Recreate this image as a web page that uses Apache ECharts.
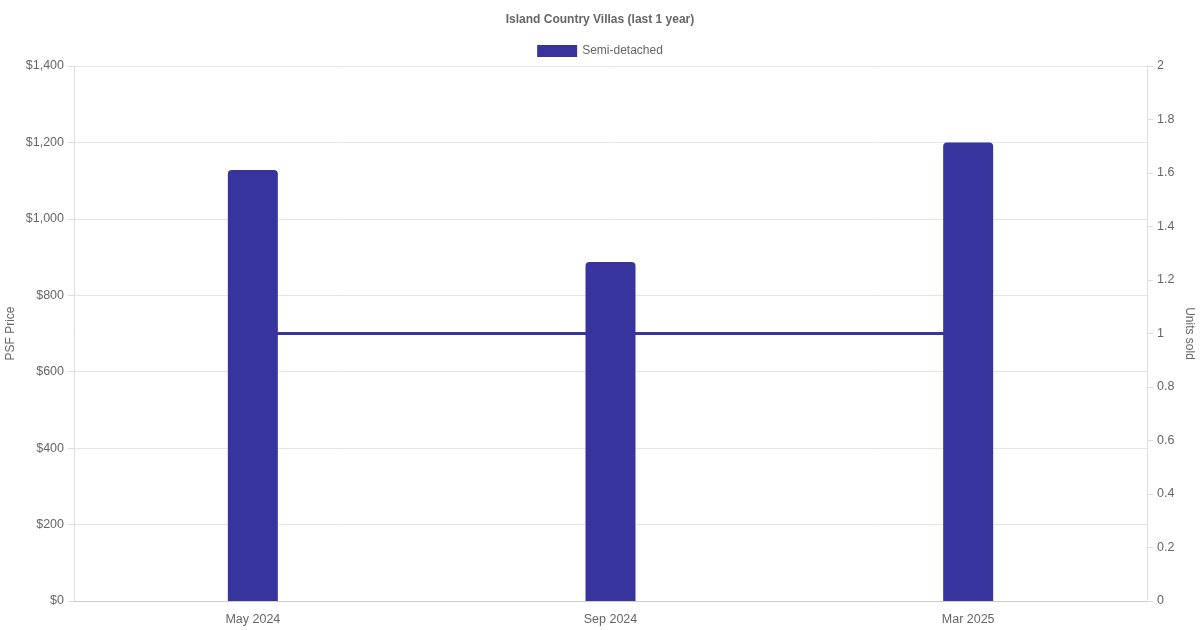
<!DOCTYPE html>
<html>
<head>
<meta charset="utf-8">
<script src="https://cdn.jsdelivr.net/npm/echarts@6/dist/echarts.min.js"></script>
<style>
  html, body { margin: 0; padding: 0; background: #fff; }
  #main { width: 1200px; height: 630px; }
</style>
</head>
<body>
<div id="main"></div>
<script>
// 数据
var months = ['May 2024', 'Sep 2024', 'Mar 2025'];
var psfPrice = [1128, 887, 1200];
var unitsSold = [1, 1, 1];
var barColor = '#38349e';

var myChart = echarts.init(document.getElementById('main'));
myChart.setOption({
    textStyle: { fontFamily: 'Liberation Sans, Arial, sans-serif' },
    title: {
        text: 'Island Country Villas (last 1 year)',
        left: 'center',
        top: 9,
        textStyle: { fontSize: 12, fontWeight: 'bold', color: '#666' }
    },
    legend: {
        data: ['Semi-detached'],
        top: 40,
        left: 'center',
        icon: 'rect',
        itemWidth: 40,
        itemHeight: 12,
        itemGap: 6,
        textStyle: { fontSize: 12, color: '#666' }
    },
    grid: {
        left: 74, right: 53, top: 66, bottom: 29,
        containLabel: false,
        outerBoundsMode: 'none'
    },
    xAxis: {
        type: 'category',
        data: months,
        axisTick: { show: false },
        axisLine: { lineStyle: { color: '#ccc' } },
        axisLabel: { fontSize: 12.5, color: '#666', margin: 12 }
    },
    yAxis: [{
        type: 'value',
        min: 0,
        max: 1400,
        interval: 200,
        name: 'PSF Price',
        nameLocation: 'middle',
        nameRotate: 90,
        nameGap: 57,
        nameMoveOverlap: false,
        nameTextStyle: { fontSize: 12, color: '#666' },
        axisLine: { show: true, lineStyle: { color: '#ddd' } },
        axisTick: { show: true, length: 6, lineStyle: { color: '#ddd' } },
        splitLine: { lineStyle: { color: '#e5e5e5' } },
        axisLabel: {
            fontSize: 12.5, color: '#666', margin: 10,
            formatter: function (v) { return '$' + v.toLocaleString('en-US'); }
        }
    }, {
        type: 'value',
        min: 0,
        max: 2,
        interval: 0.2,
        name: 'Units sold',
        nameLocation: 'middle',
        nameRotate: -90,
        nameGap: 36,
        nameMoveOverlap: false,
        nameTextStyle: { fontSize: 12, color: '#666' },
        axisLine: { show: true, lineStyle: { color: '#ddd' } },
        axisTick: { show: true, length: 6, lineStyle: { color: '#ddd' } },
        splitLine: { show: false },
        axisLabel: {
            fontSize: 12.5, color: '#666', margin: 10,
            formatter: function (v) { return String(Math.round(v * 10) / 10); }
        }
    }],
    series: [{
        name: 'Semi-detached',
        type: 'bar',
        data: psfPrice,
        barWidth: 50,
        z: 3,
        itemStyle: { color: barColor, borderRadius: [4, 4, 0, 0] }
    }, {
        name: 'Units sold',
        type: 'line',
        yAxisIndex: 1,
        data: unitsSold,
        showSymbol: false,
        z: 2,
        lineStyle: { color: barColor, width: 3 },
        itemStyle: { color: barColor }
    }]
});
</script>
</body>
</html>
